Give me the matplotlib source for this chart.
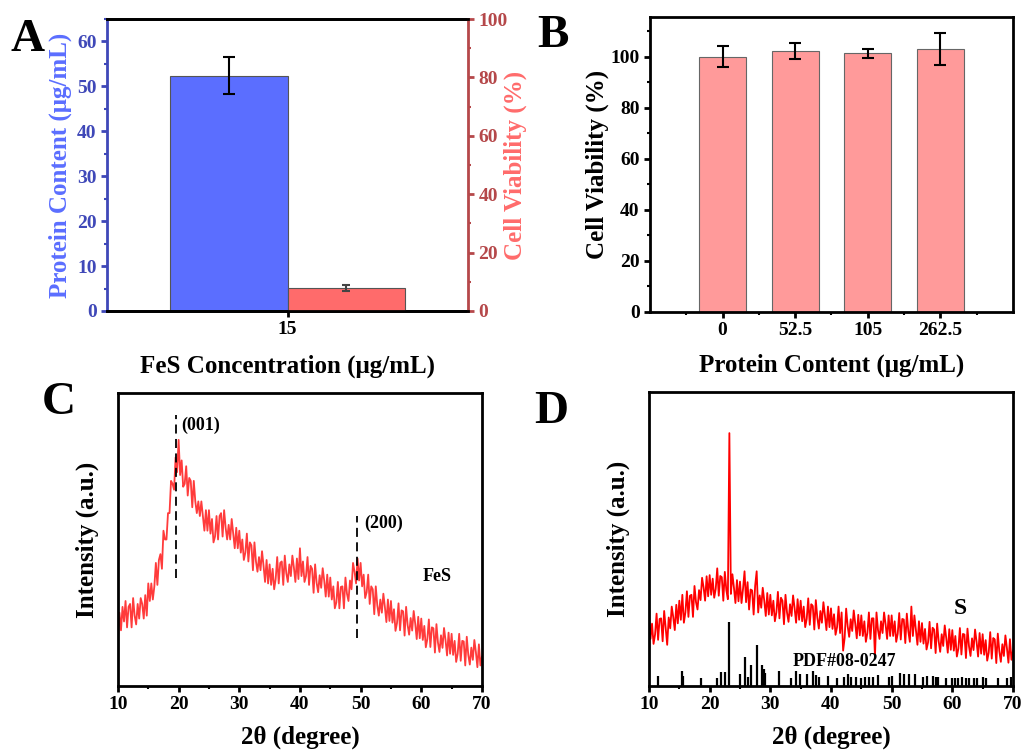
import numpy as np
import matplotlib.pyplot as plt
from matplotlib.ticker import MultipleLocator, NullLocator

plt.rcParams['font.family'] = ['Liberation Serif', 'DejaVu Serif']
plt.rcParams['font.weight'] = 'bold'
plt.rcParams['axes.labelweight'] = 'bold'

# ---- panel A data
fes_conc = ['15']
protein_content = [52.4]
protein_err = [4.1]
viability_a = [7.9]
viability_a_err = [1.0]

# ---- panel B data
protein_levels = ['0', '52.5', '105', '262.5']
viability_b = [100.0, 102.2, 101.2, 103.0]
viability_b_err = [4.1, 3.3, 1.9, 6.2]

# ---- panel C data: FeS XRD, 2theta 10-70 step 0.25
two_theta = np.linspace(10, 70, 241)
fes_intensity = [
    16, 25, 19, 27, 22, 29, 20, 27, 28, 20, 30, 24, 21, 28, 23, 30,
    28, 23, 31, 24, 35, 29, 35, 29.5, 34, 42, 34.5, 43, 45, 40, 53, 50,
    50, 59, 59, 70, 69, 67, 78, 73, 84, 72, 77, 68, 69, 75, 65, 71,
    70, 61, 70, 63, 59, 63, 58, 63, 58, 53, 60, 53, 60, 52, 57, 49,
    51, 58, 50, 58, 59, 51, 60, 54, 50, 55, 50, 57, 52, 47, 54, 47,
    53, 45.5, 50, 43, 45.5, 52, 42.5, 49, 48, 39.5, 49, 42.5, 39, 44, 39.5, 46,
    41, 35.5, 43, 35, 41.5, 34.5, 40, 33, 36.5, 44, 35, 42, 42.5, 34.5, 44.5, 38.5,
    35.5, 41.5, 37.5, 44.5, 40.5, 35.5, 43.5, 36.5, 47, 37.5, 42.5, 35.5, 37.5, 44, 34.5, 41,
    40, 31.8, 41.5, 35.2, 32, 37.8, 33.5, 40.2, 36, 30.5, 38, 30.5, 37, 29.5, 34, 26.5,
    28.5, 35.5, 26.5, 33.8, 34, 26.5, 37, 31.5, 29, 36, 33, 42, 39, 35, 43.5, 36,
    42, 34, 38, 30, 32, 38, 28, 34, 33, 24.5, 34, 27.5, 24, 29.5, 25, 31.5,
    27, 21.8, 29.5, 22.2, 29, 21.6, 26.2, 18.8, 21.5, 28.2, 19, 25.8, 25.5, 17.2, 27, 20.8,
    17.5, 23.2, 18.9, 25.6, 21.3, 16, 23.6, 16.3, 23, 15.7, 20.5, 13.2, 16, 22.7, 13.3, 20,
    19.7, 11.4, 21.1, 14.8, 11.6, 17.3, 13, 19.8, 15.6, 10.4, 18.2, 11, 17.8, 10.6, 15.4, 8.2,
    11, 17.8, 8.6, 15.4, 15.2, 7, 16.8, 10.6, 7.3, 13.1, 8.9, 15.7, 11.6, 6.4, 14.2, 7,
    10,
]
fes_planes = ['(001)', '(200)']
fes_plane_pos = [19.6, 49.4]

# ---- panel D data: S XRD
s_intensity = [
    23, 16, 21.2, 14.3, 17.5, 24.6, 15.7, 22.8, 23, 15.2, 25.5, 19.7, 14, 23.3, 19.6, 27,
    23.4, 19, 27.6, 21.3, 29, 22.5, 31, 21.5, 25, 32.2, 23.5, 30.7, 31, 23.5, 34, 28.5,
    26, 32.6, 29.2, 36.8, 33.5, 29, 37.3, 30.5, 37.7, 31, 36.5, 30, 33, 40, 30.7, 37.4,
    37, 29, 38.8, 32.6, 29.5, 86, 31.3, 38, 33.5, 28.2, 36, 28.8, 35.5, 28.2, 33, 39,
    28.5, 35.3, 26, 32.8, 32.5, 24.3, 34.1, 39, 25, 30.8, 26.6, 33.4, 29, 23.8, 31.6, 24.3,
    31, 24, 29, 22, 25, 32, 23, 30, 29, 21, 31, 25, 21.8, 27.8, 23.8, 30.8,
    26.5, 21.5, 29.5, 22.5, 29, 22, 27, 20, 22.8, 29.8, 20.8, 27.8, 27.2, 19.2, 29.2, 23.2,
    19.5, 25.5, 21.5, 28.5, 24, 19, 27, 20, 26.4, 19.4, 24.4, 17.4, 20, 27, 18, 25,
    12, 16.3, 26.3, 20.3, 16.7, 22.7, 18.7, 25.7, 21.2, 16.2, 24.2, 17.2, 24, 17, 22, 15,
    18, 25, 16, 23, 23, 10, 25, 19, 16, 22, 18, 25, 21, 16, 24, 17,
    24, 17, 22, 15, 17.8, 24.8, 15.8, 22.8, 22.6, 14.6, 24.6, 18.6, 15, 27, 17, 24,
    19, 14, 22, 15, 21.4, 14.4, 19.4, 12.4, 14.8, 21.8, 12.8, 19.8, 19.2, 11.2, 21.2, 15.2,
    11.6, 17.6, 13.6, 20.6, 16.3, 11.3, 19.3, 12.3, 19, 12, 17, 10, 12.7, 19.7, 10.7, 17.7,
    17.5, 9.5, 19.5, 13.5, 10.2, 16.2, 12.2, 19.2, 15, 10, 18, 11, 17.6, 10.6, 15.6, 8.6,
    11.3, 18.3, 9.3, 16.3, 15.8, 7.8, 17.8, 11.8, 8.2, 14.2, 10.2, 17.2, 12.9, 7.9, 15.9, 8.9,
    12,
]
pdf_pos = [11.5, 15.4, 15.6, 18.5, 21.2, 21.8, 22.6, 23.2, 25.0, 25.9, 26.3, 26.8,
           27.8, 28.6, 28.9, 29.1, 31.5, 33.4, 34.3, 34.9, 36.0, 37.0, 37.5, 38.0,
           39.5, 41.0, 42.2, 42.8, 43.3, 44.2, 45.0, 45.6, 46.2, 47.0, 47.8, 49.6,
           50.1, 51.3, 52.0, 52.9, 53.8, 55.2, 55.8, 56.8, 57.3, 57.6, 59.0, 60.0,
           60.5, 61.0, 61.6, 62.2, 62.8, 63.5, 64.0, 65.0, 65.6, 67.5, 69.0, 69.6]
pdf_int = [3.4, 5.0, 3.4, 2.7, 2.7, 4.6, 4.6, 21.8, 3.9, 10.0, 3.0, 7.0,
           14.0, 7.0, 5.7, 4.3, 5.2, 2.7, 5.0, 3.9, 3.9, 5.0, 3.7, 3.0,
           3.4, 2.6, 3.0, 4.1, 3.2, 3.0, 2.6, 3.0, 3.0, 3.0, 3.7, 3.0,
           3.4, 4.5, 4.1, 4.1, 4.1, 3.0, 3.4, 3.4, 3.2, 3.0, 2.6, 2.6,
           2.6, 2.6, 3.0, 2.6, 2.6, 2.6, 2.6, 3.0, 2.6, 2.6, 2.6, 3.0]

fig = plt.figure(figsize=(10.23, 7.51), dpi=100)

blue = '#5B6EFF'
blue_dark = '#3F48B8'
red = '#FF6B6B'
red_dark = '#B5484A'
lab = 18
tk = 14


def style_spines(ax):
    for s in ax.spines.values():
        s.set_linewidth(2)


# ---------------- A
axA = fig.add_axes([0.1046, 0.5859, 0.3529, 0.3888])
axA2 = axA.twinx()
axA.bar([-0.325], protein_content, width=0.65, color=blue, edgecolor='#555555', linewidth=0.8,
        yerr=protein_err, capsize=4, error_kw=dict(elinewidth=1.5, capthick=1.5, ecolor='black'))
axA2.bar([0.325], viability_a, width=0.65, color=red, edgecolor='#555555', linewidth=0.8,
         yerr=viability_a_err, capsize=3, error_kw=dict(elinewidth=1.5, capthick=1.5, ecolor='#444444'))
axA.set_xlim(-1, 1)
axA.set_ylim(0, 65)
axA2.set_ylim(0, 100)
axA.set_xticks([0])
axA.set_xticklabels(fes_conc)
axA.yaxis.set_major_locator(MultipleLocator(10))
axA.yaxis.set_minor_locator(MultipleLocator(5))
axA2.yaxis.set_major_locator(MultipleLocator(20))
axA2.yaxis.set_minor_locator(MultipleLocator(10))
for a in (axA, axA2):
    style_spines(a)
axA.spines['left'].set_color(blue_dark)
axA2.spines['left'].set_visible(False)
axA2.spines['right'].set_color(red_dark)
axA.spines['right'].set_visible(False)
axA.tick_params(axis='y', colors=blue_dark, labelsize=tk, direction='out', length=4, width=2)
axA.tick_params(axis='y', which='minor', colors=blue_dark, length=2, width=1.5)
axA.tick_params(axis='x', labelsize=tk, direction='out', length=4, width=2)
axA2.tick_params(axis='y', colors=red_dark, labelsize=tk, direction='out', length=4, width=2)
axA2.tick_params(axis='y', which='minor', colors=red_dark, length=2, width=1.5)
axA.set_ylabel('Protein Content (μg/mL)', fontsize=lab, color=blue, va='center')
axA.yaxis.set_label_coords(-0.13, 0.5)
axA2.set_ylabel('Cell Viability (%)', fontsize=lab, color=red, va='center')
axA2.yaxis.set_label_coords(1.13, 0.5)
axA.set_xlabel('FeS Concentration (μg/mL)', fontsize=lab, va='center')
axA.xaxis.set_label_coords(0.5, -0.188)

# ---------------- B
axB = fig.add_axes([0.6354, 0.5846, 0.3548, 0.3928])
xb = np.arange(len(protein_levels))
axB.bar(xb, viability_b, width=0.65, color='#FF9A9A', edgecolor='#666666', linewidth=0.8,
        yerr=viability_b_err, capsize=4, error_kw=dict(elinewidth=1.5, capthick=1.5, ecolor='black'))
axB.set_xlim(-1, 4)
axB.set_ylim(0, 115.5)
axB.set_xticks(xb)
axB.set_xticklabels(protein_levels)
axB.xaxis.set_minor_locator(MultipleLocator(1, offset=0.5))
axB.yaxis.set_major_locator(MultipleLocator(20))
axB.yaxis.set_minor_locator(MultipleLocator(10))
style_spines(axB)
axB.tick_params(labelsize=tk, direction='out', length=4, width=2)
axB.tick_params(which='minor', length=2, width=1.5)
axB.set_ylabel('Cell Viability (%)', fontsize=lab, va='center')
axB.yaxis.set_label_coords(-0.146, 0.5)
axB.set_xlabel('Protein Content (μg/mL)', fontsize=lab, va='center')
axB.xaxis.set_label_coords(0.5, -0.18)

# ---------------- C
axC = fig.add_axes([0.1153, 0.0866, 0.3558, 0.3901])
axC.plot(two_theta, fes_intensity, color='#FF3B3B', lw=1.3)
axC.vlines(fes_plane_pos[0], 37, 92.5, colors='black', linestyles=(0, (5, 3)), lw=1.3)
axC.vlines(fes_plane_pos[1], 16.5, 58, colors='black', linestyles=(0, (5, 3)), lw=1.3)
axC.text(20.5, 89, fes_planes[0], fontsize=13, va='center')
axC.text(50.6, 55.6, fes_planes[1], fontsize=13, va='center')
axC.text(60.3, 37.5, 'FeS', fontsize=13, va='center')
axC.set_xlim(10, 70)
axC.set_ylim(0, 100)
axC.set_ylabel('Intensity (a.u.)', fontsize=lab, va='center')
axC.yaxis.set_label_coords(-0.085, 0.5)
axC.set_xlabel('2θ (degree)', fontsize=lab, va='center')
axC.xaxis.set_label_coords(0.5, -0.174)

# ---------------- D
axD = fig.add_axes([0.6344, 0.0866, 0.3558, 0.3915])
axD.plot(two_theta, s_intensity, color='#FF0000', lw=1.3)
axD.vlines(pdf_pos, 0, pdf_int, colors='black', lw=1.6)
axD.text(61.3, 26.5, 'S', fontsize=17, ha='center', va='center')
axD.text(33.7, 8.2, 'PDF#08-0247', fontsize=13, va='center')
axD.set_xlim(10, 70)
axD.set_ylim(0, 100)
axD.set_ylabel('Intensity (a.u.)', fontsize=lab, va='center')
axD.yaxis.set_label_coords(-0.085, 0.5)
axD.set_xlabel('2θ (degree)', fontsize=lab, va='center')
axD.xaxis.set_label_coords(0.5, -0.174)

for ax in (axC, axD):
    style_spines(ax)
    ax.xaxis.set_major_locator(MultipleLocator(10))
    ax.xaxis.set_minor_locator(MultipleLocator(5))
    ax.yaxis.set_major_locator(NullLocator())
    ax.tick_params(axis='x', labelsize=tk, direction='out', length=4, width=2)
    ax.tick_params(axis='x', which='minor', length=2, width=1.5)

# panel letters
for letter, x, y in [('A', 0.027, 0.947), ('B', 0.541, 0.952), ('C', 0.057, 0.464), ('D', 0.539, 0.451)]:
    fig.text(x, y, letter, fontsize=34, ha='center', va='center')

fig.savefig('out.png', dpi=100)
